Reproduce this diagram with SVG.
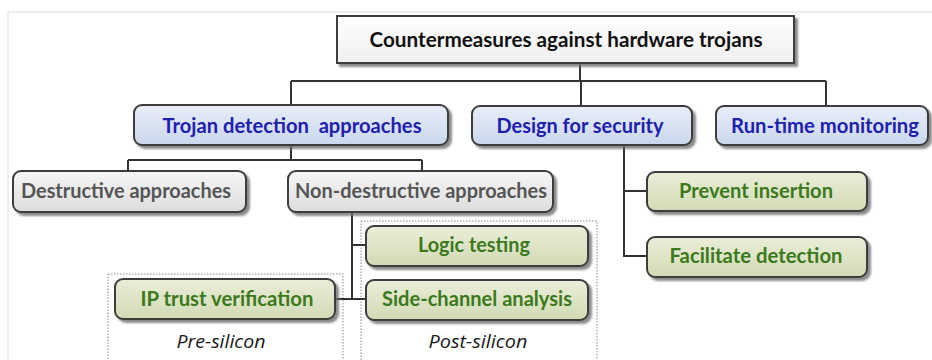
<svg xmlns="http://www.w3.org/2000/svg" width="932" height="360" viewBox="0 0 932 360">
  <defs>
    <linearGradient id="gWhite" x1="0" y1="0" x2="0" y2="1">
      <stop offset="0" stop-color="#ffffff"/>
      <stop offset="1" stop-color="#efefef"/>
    </linearGradient>
    <linearGradient id="gBlue" x1="0" y1="0" x2="0" y2="1">
      <stop offset="0" stop-color="#e8eef8"/>
      <stop offset="1" stop-color="#c9d7ec"/>
    </linearGradient>
    <linearGradient id="gGray" x1="0" y1="0" x2="0" y2="1">
      <stop offset="0" stop-color="#f6f6f6"/>
      <stop offset="1" stop-color="#dddddd"/>
    </linearGradient>
    <linearGradient id="gGreen" x1="0" y1="0" x2="0" y2="1">
      <stop offset="0" stop-color="#eaeed9"/>
      <stop offset="1" stop-color="#d2dab4"/>
    </linearGradient>
    <filter id="shadow" x="-10%" y="-20%" width="125%" height="150%">
      <feGaussianBlur in="SourceAlpha" stdDeviation="1"/>
      <feOffset dx="3" dy="3" result="off"/>
      <feFlood flood-color="#6e6e6e" flood-opacity="0.8"/>
      <feComposite in2="off" operator="in" result="sh"/>
      <feMerge>
        <feMergeNode in="sh"/>
        <feMergeNode in="SourceGraphic"/>
      </feMerge>
    </filter>
  </defs>
  <style>
    .box { stroke: #3c3c3c; stroke-width: 2; filter: url(#shadow); }
    .root { fill: url(#gWhite); }
    .blue { fill: url(#gBlue); }
    .gray { fill: url(#gGray); }
    .green { fill: url(#gGreen); }
    .lbl { font-family: Lato, "Open Sans", "Liberation Sans", sans-serif; font-weight: bold; font-size: 20px; text-anchor: middle; }
    .tRoot { fill: #111111; }
    .tBlue { fill: #2020b0; }
    .tGray { fill: #555555; }
    .tGreen { fill: #3b7a1c; }
    .phase { font-family: "Open Sans", Lato, "Liberation Sans", sans-serif; font-style: italic; font-size: 18.5px; fill: #1a1a1a; text-anchor: middle; }
    .zone { fill: #ffffff; stroke: #8a8a8a; stroke-width: 1; stroke-dasharray: 1.5 1.5; }
    .wire { fill: none; stroke: #333333; stroke-width: 2; }
  </style>

  <!-- page frame -->
  <rect x="0" y="0" width="932" height="360" fill="#ffffff"/>
  <rect x="8" y="12" width="940" height="360" fill="none" stroke="#ececec" stroke-width="2"/>

  <!-- pre-/post-silicon zones -->
  <g id="zone-pre">
    <rect class="zone" x="108" y="274" width="235" height="100"/>
    <text class="phase" x="221" y="348" textLength="89" lengthAdjust="spacingAndGlyphs">Pre-silicon</text>
  </g>
  <g id="zone-post">
    <rect class="zone" x="361" y="221" width="236" height="153"/>
    <text class="phase" x="478" y="348" textLength="99" lengthAdjust="spacingAndGlyphs">Post-silicon</text>
  </g>

  <!-- connectors -->
  <g id="connectors" class="wire">
    <path d="M580 63 V81 M291 81 H826 M291 81 V105 M581 81 V106 M826 81 V106"/>
    <path d="M291 145 V160 M128 160 H422 M128 160 V172 M422 160 V172"/>
    <path d="M352 212 V299 M352 245 H366 M335 299 H366"/>
    <path d="M624 145 V256 H647 M624 191 H647"/>
  </g>

  <!-- nodes -->
  <g id="root">
    <rect class="box root" x="337" y="16" width="457" height="47"/>
    <text class="lbl tRoot" x="566" y="47" textLength="393" lengthAdjust="spacingAndGlyphs">Countermeasures against hardware trojans</text>
  </g>
  <g id="trojan-detection">
    <rect class="box blue" x="134" y="105" width="314" height="40" rx="8"/>
    <text class="lbl tBlue" x="292" y="133" textLength="259" lengthAdjust="spacingAndGlyphs" xml:space="preserve">Trojan detection  approaches</text>
  </g>
  <g id="design-for-security">
    <rect class="box blue" x="472" y="106" width="220" height="39" rx="8"/>
    <text class="lbl tBlue" x="580" y="133" textLength="167" lengthAdjust="spacingAndGlyphs">Design for security</text>
  </g>
  <g id="run-time-monitoring">
    <rect class="box blue" x="716" y="106" width="212" height="39" rx="8"/>
    <text class="lbl tBlue" x="825" y="133" textLength="188" lengthAdjust="spacingAndGlyphs">Run-time monitoring</text>
  </g>
  <g id="destructive">
    <rect class="box gray" x="13" y="171" width="233" height="41" rx="8"/>
    <text class="lbl tGray" x="126" y="198" textLength="210" lengthAdjust="spacingAndGlyphs">Destructive approaches</text>
  </g>
  <g id="non-destructive">
    <rect class="box gray" x="288" y="171" width="265" height="41" rx="8"/>
    <text class="lbl tGray" x="421" y="198" textLength="252" lengthAdjust="spacingAndGlyphs">Non-destructive approaches</text>
  </g>
  <g id="logic-testing">
    <rect class="box green" x="366" y="226" width="222" height="40" rx="8"/>
    <text class="lbl tGreen" x="474" y="252" textLength="112" lengthAdjust="spacingAndGlyphs">Logic testing</text>
  </g>
  <g id="side-channel">
    <rect class="box green" x="366" y="280" width="222" height="40" rx="8"/>
    <text class="lbl tGreen" x="477" y="306" textLength="190" lengthAdjust="spacingAndGlyphs">Side-channel analysis</text>
  </g>
  <g id="ip-trust">
    <rect class="box green" x="115" y="279" width="220" height="40" rx="8"/>
    <text class="lbl tGreen" x="227" y="306" textLength="173" lengthAdjust="spacingAndGlyphs">IP trust verification</text>
  </g>
  <g id="prevent-insertion">
    <rect class="box green" x="647" y="172" width="220" height="39" rx="8"/>
    <text class="lbl tGreen" x="756" y="198" textLength="154" lengthAdjust="spacingAndGlyphs">Prevent insertion</text>
  </g>
  <g id="facilitate-detection">
    <rect class="box green" x="647" y="237" width="220" height="40" rx="8"/>
    <text class="lbl tGreen" x="756" y="263" textLength="173" lengthAdjust="spacingAndGlyphs">Facilitate detection</text>
  </g>
</svg>
